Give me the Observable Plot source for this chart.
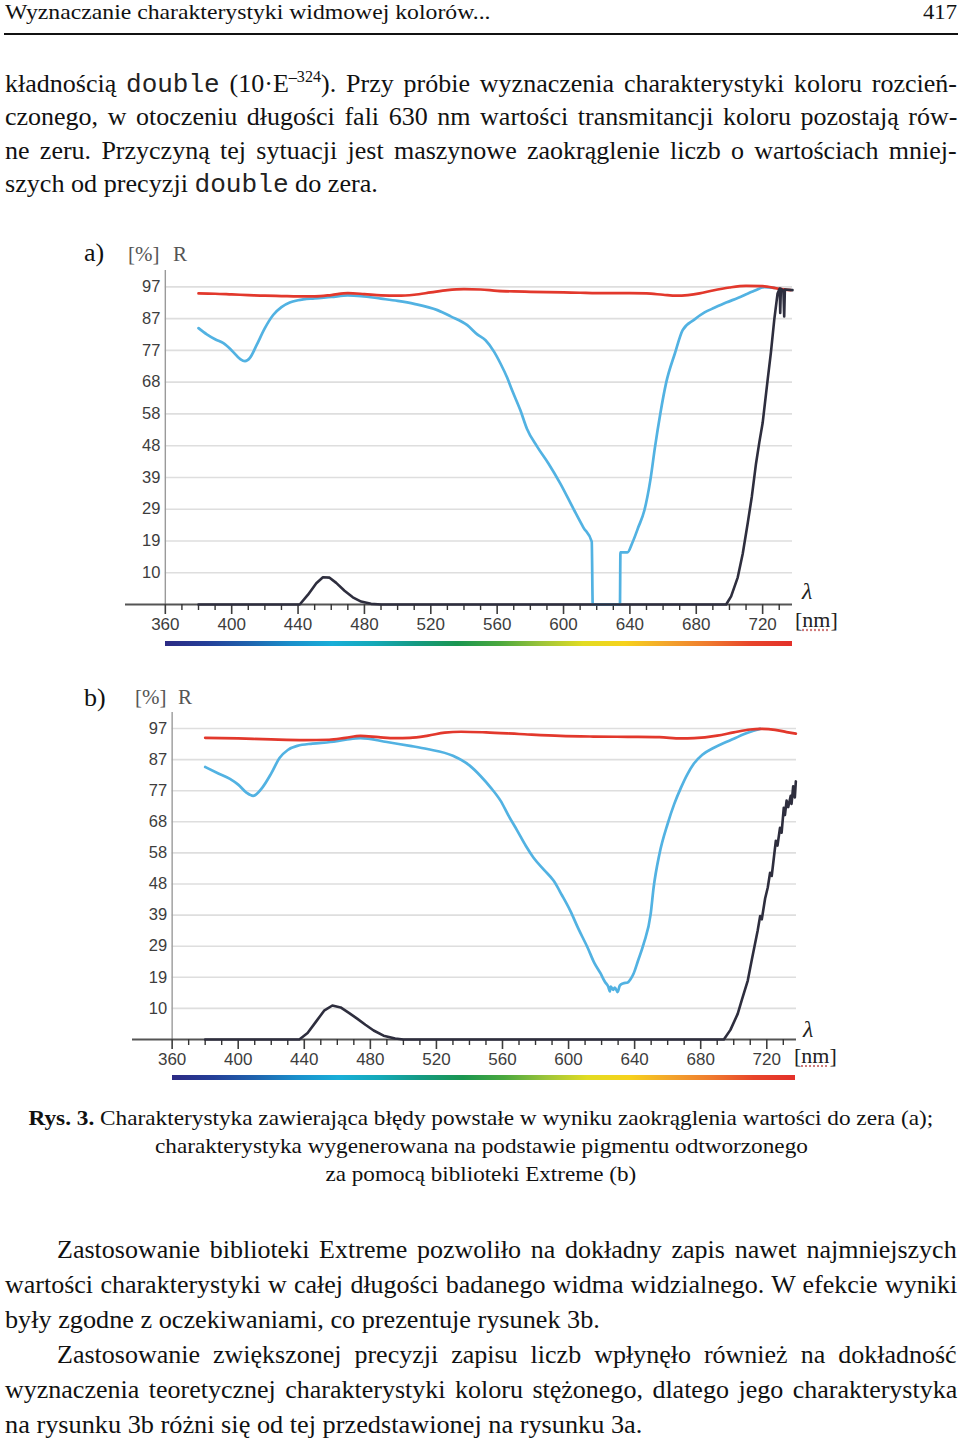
<!DOCTYPE html>
<html><head><meta charset="utf-8">
<script src="https://cdn.jsdelivr.net/npm/d3@7"></script>
<script src="https://cdn.jsdelivr.net/npm/@observablehq/plot@0.6"></script>
<style>
html,body{margin:0;padding:0;background:#fff;}
body{width:960px;height:1442px;position:relative;overflow:hidden;font-family:"Liberation Serif","Times New Roman",serif;color:#111;}
.ln{position:absolute;white-space:nowrap;line-height:1;}
.ln>span{display:inline-block;transform-origin:0 50%;}
.ctr{left:0;width:962px;text-align:center;}
.ctr>span{transform-origin:50% 50%;}
code{font-family:"Liberation Mono",monospace;font-size:1.0em;color:#222;}
sup{font-size:0.62em;vertical-align:0.62em;line-height:0;}
.lab{position:absolute;white-space:nowrap;line-height:1;font-family:"Liberation Serif",serif;}
.chart{position:absolute;left:0;}
.bar{position:absolute;height:5px;}
</style></head>
<body>
<div class="ln" data-x="5" data-w="486" data-cy="13" data-f="22">Wyznaczanie charakterystyki widmowej kolorów...</div>
<div class="ln" data-x="923" data-w="34" data-cy="13" data-f="22">417</div>
<div style="position:absolute;left:4px;top:33px;width:954px;height:1.5px;background:#111"></div>

<div class="ln" data-x="5" data-w="952" data-cy="85" data-f="26" data-j="1">kładnością <code>double</code> (10·E<sup>–324</sup>). Przy próbie wyznaczenia charakterystyki koloru rozcień-</div>
<div class="ln" data-x="5" data-w="952" data-cy="118" data-f="26" data-j="1">czonego, w otoczeniu długości fali 630 nm wartości transmitancji koloru pozostają rów-</div>
<div class="ln" data-x="5" data-w="952" data-cy="152" data-f="26" data-j="1">ne zeru. Przyczyną tej sytuacji jest maszynowe zaokrąglenie liczb o wartościach mniej-</div>
<div class="ln" data-x="5" data-w="373" data-cy="185" data-f="26">szych od precyzji <code>double</code> do zera.</div>

<div class="lab" style="left:84px;top:240px;font-size:26px;">a)</div>
<div class="lab" style="left:128px;top:244px;font-size:21px;color:#555;">[%]</div>
<div class="lab" style="left:173px;top:244px;font-size:21px;color:#555;">R</div>
<div class="lab" style="left:802px;top:579px;font-size:24px;font-style:italic;color:#222;">λ</div>
<div class="lab" style="left:795px;top:609px;font-size:22px;color:#222;">[<span style="text-decoration:underline dotted #d07a7a;">nm</span>]</div>
<div id="chartA" class="chart" style="top:240px;"></div>
<div id="barA" class="bar" style="left:165px;width:627px;top:641px;"></div>

<div class="lab" style="left:84px;top:685px;font-size:26px;">b)</div>
<div class="lab" style="left:135px;top:687px;font-size:21px;color:#555;">[%]</div>
<div class="lab" style="left:178px;top:687px;font-size:21px;color:#555;">R</div>
<div class="lab" style="left:803px;top:1017px;font-size:24px;font-style:italic;color:#222;">λ</div>
<div class="lab" style="left:794px;top:1045px;font-size:22px;color:#222;">[<span style="text-decoration:underline dotted #d07a7a;">nm</span>]</div>
<div id="chartB" class="chart" style="top:680px;"></div>
<div id="barB" class="bar" style="left:172px;width:623px;top:1075px;"></div>

<div class="ln ctr" data-w="905" data-cy="1119" data-f="22"><b>Rys. 3.</b> Charakterystyka zawierająca błędy powstałe w wyniku zaokrąglenia wartości do zera (a);</div>
<div class="ln ctr" data-w="653" data-cy="1147" data-f="22">charakterystyka wygenerowana na podstawie pigmentu odtworzonego</div>
<div class="ln ctr" data-w="311" data-cy="1175" data-f="22">za pomocą biblioteki Extreme (b)</div>

<div class="ln" data-x="57" data-w="900" data-cy="1251" data-f="26" data-j="1">Zastosowanie biblioteki Extreme pozwoliło na dokładny zapis nawet najmniejszych</div>
<div class="ln" data-x="5" data-w="952" data-cy="1286" data-f="26" data-j="1">wartości charakterystyki w całej długości badanego widma widzialnego. W efekcie wyniki</div>
<div class="ln" data-x="5" data-w="595" data-cy="1321" data-f="26">były zgodne z oczekiwaniami, co prezentuje rysunek 3b.</div>
<div class="ln" data-x="57" data-w="900" data-cy="1356" data-f="26" data-j="1">Zastosowanie zwiększonej precyzji zapisu liczb wpłynęło również na dokładność</div>
<div class="ln" data-x="5" data-w="952" data-cy="1391" data-f="26" data-j="1">wyznaczenia teoretycznej charakterystyki koloru stężonego, dlatego jego charakterystyka</div>
<div class="ln" data-x="5" data-w="637" data-cy="1426" data-f="26">na rysunku 3b różni się od tej przedstawionej na rysunku 3a.</div>

<script>
// ---------- data ----------
const xMajorTicks = [360, 400, 440, 480, 520, 560, 600, 640, 680, 720];
const xMinorTicks = [370, 380, 390, 410, 420, 430, 450, 460, 470, 490, 500, 510, 530, 540, 550, 570, 580, 590, 610, 620, 630, 650, 660, 670, 690, 700, 710, 730];
const yTickLabels = ["10", "19", "29", "39", "48", "58", "68", "77", "87", "97"];
const yTickValues = [9.7, 19.4, 29.1, 38.8, 48.5, 58.2, 67.9, 77.6, 87.3, 97];

// chart a) [wavelength nm, R %]
const redA = [[380,95],[390,94.9],[400,94.7],[410,94.5],[420,94.3],[430,94.2],[440,94.1],[450,94.1],[460,94.5],[470,95.1],[480,94.8],[490,94.4],[500,94.3],[510,94.6],[520,95.3],[530,96.0],[540,96.3],[550,96.2],[560,95.8],[570,95.6],[580,95.5],[590,95.4],[600,95.3],[610,95.2],[620,95.1],[630,95.1],[640,95.1],[650,95.0],[660,94.6],[668,94.3],[675,94.5],[682,95.0],[690,95.9],[700,96.8],[710,97.3],[720,97.2],[730,96.4],[737,96.0]];
const blueA = [[380,84.4],[385,82.5],[390,81.0],[395,79.8],[400,77.6],[405,75.0],[408,74.3],[411,75.3],[415,79.2],[420,84.4],[425,88.4],[430,90.8],[435,92.2],[440,92.9],[450,93.5],[460,93.9],[470,94.4],[478,94.2],[490,93.4],[500,92.7],[510,91.8],[524,89.9],[532,88.0],[542,85.3],[548,82.5],[553,80.7],[558,77.3],[562,73.6],[566,69.3],[569,65.4],[574,59.3],[578,53.6],[584,48.3],[591,43.0],[598,37.0],[606,29.2],[612,23.5],[617,19.2],[617.6,0],[634,0],[634.3,15.9],[638.5,15.9],[641.6,19.0],[645,23.5],[648.7,28.7],[652.3,37.9],[655.1,48.0],[658.3,58.2],[661.8,67.6],[667.2,76.8],[671.8,83.8],[678.8,87.0],[685,89.2],[690.9,90.6],[698,92.2],[705,93.6],[715,95.8],[721,96.9],[727,96.7]];
const blackA = [[380,0],[441,0],[446,3],[451,6.5],[455,8.3],[459,8.2],[463,6.6],[468,4.2],[473,2.2],[478,0.9],[484,0.2],[490,0],[698,0],[701,2.5],[705,8.3],[708,15.5],[711,24.8],[713.5,33],[716,43],[718,49.5],[720,55.4],[723,68.5],[725,77],[727,86.9],[729,95],[730.3,96.5],[730.6,89],[731,96.4],[732.5,95.8],[733,88],[733.4,96.2],[738,96]];

// chart b) [wavelength nm, R %]
const redB = [[380,94.1],[400,93.9],[420,93.6],[440,93.4],[455,93.5],[465,94.1],[474,94.7],[485,94.3],[495,94.0],[504,94.1],[515,94.8],[525,95.7],[535,96.0],[550,95.8],[570,95.3],[595,94.7],[615,94.5],[636,94.4],[655,94.3],[668,93.9],[676,94.0],[690,94.8],[700,95.8],[710,96.7],[716,96.9],[725,96.6],[732,95.9],[737.6,95.4]];
const blueB = [[380,85],[388,83],[395,81.3],[400,79.5],[405,77],[409,76],[414.5,78.5],[420,83],[425,87.8],[430,90.3],[435.8,91.6],[445,92.3],[455.8,92.8],[465,93.5],[474,94],[490,92.8],[504,91.6],[514.5,90.6],[530,88.5],[540,85.5],[546.7,82.2],[553,78.5],[558.8,74.5],[564,69.5],[569,65.1],[574,60.5],[578.8,56.7],[585,53],[591,49.5],[596,45],[601,40.2],[606,34.5],[611.5,28.7],[615.5,24],[619.4,20.6],[622,18],[624,16.5],[625,15],[625.5,16.5],[627,15.5],[628,16.2],[629.7,14.8],[631,16.8],[633,17.5],[635.8,17.8],[637.5,18.8],[639.4,20.6],[642,24.5],[645.5,29.9],[649.7,39.1],[651.5,47.4],[655,57.8],[660,67.3],[664,73.5],[668,78.5],[672,82.8],[675.8,86],[681,88.8],[688,91],[694,92.5],[700,93.8],[706,95.2],[712,96.3],[716,96.9]];
const blackB = [[380,0],[437,0],[442,2],[447,5.5],[452,9],[457,10.6],[462,10],[467,8.3],[472,6.5],[477,4.6],[482,2.8],[488,1.2],[495,0.3],[500,0],[694,0],[698,3],[702.4,8],[705,12.5],[708.5,18.4],[711,25],[714.5,34],[716,38.5],[717,37.5],[719,44],[720.6,47.4],[722,52],[723,51],[725.5,62],[726.5,60.5],[728,66],[729,64.5],[730.3,72.3],[731,70],[732,74.5],[733,72.5],[734.5,76],[735,73.5],[736,79],[737,75.5],[737.6,80.5]];

const spectrumStops = ["#2c2a84","#243f98","#1f63ae","#1a8fcb","#19aed8","#14a9b8","#149a82","#1a9650","#4aa83e","#9cc43a","#e2dc22","#f6d21c","#f3a52c","#ef7a2e","#e8452a","#e3302a"];

// ---------- drawing ----------
function chart(o) {
  return Plot.plot({
    width: 960, height: o.height,
    marginLeft: o.ml, marginRight: o.mr, marginTop: o.mt, marginBottom: o.mb,
    x: {domain: [336, 738]},
    y: {domain: [0, 102], axis: null},
    style: {background: "transparent", overflow: "visible", fontFamily: "'Liberation Sans', Arial, sans-serif", fontSize: "17px"},
    marks: [
      Plot.ruleY(yTickValues, {x1: 360, x2: 738, stroke: "#dedede", strokeWidth: 1.6}),
      Plot.ruleX([360], {y1: 0, y2: 102, stroke: "#9a9a9a", strokeWidth: 1.4}),
      Plot.ruleY([0], {x1: 336, x2: 738, stroke: "#555", strokeWidth: 1.8}),
      Plot.axisX(xMinorTicks, {tickSize: 6, tickFormat: () => "", color: "#333", strokeWidth: 1.4}),
      Plot.axisX(xMajorTicks, {tickSize: 10, tickPadding: 3, color: "#3d3d3d", strokeWidth: 1.6, tickFormat: d => String(d)}),
      Plot.text(yTickValues, {x: 360, y: d => d, text: (d, i) => yTickLabels[i], textAnchor: "end", dx: -5, fontSize: 16.5, fill: "#3d3d3d"}),
      Plot.line(o.blue, {x: d => d[0], y: d => d[1], stroke: "#52b2e2", strokeWidth: 2.7, curve: "monotone-x"}),
      Plot.line(o.red, {x: d => d[0], y: d => d[1], stroke: "#e2382c", strokeWidth: 2.7, curve: "monotone-x"}),
      Plot.line(o.black, {x: d => d[0], y: d => d[1], stroke: "#2e2e3e", strokeWidth: 2.6, curve: "linear"})
    ]
  });
}
document.getElementById("chartA").append(chart({height: 420, ml: 125, mr: 168, mt: 30, mb: 56, red: redA, blue: blueA, black: blackA}));
document.getElementById("chartB").append(chart({height: 415, ml: 132, mr: 164, mt: 32, mb: 56, red: redB, blue: blueB, black: blackB}));

const grad = "linear-gradient(to right," + spectrumStops.join(",") + ")";
document.getElementById("barA").style.background = grad;
document.getElementById("barB").style.background = grad;

// ---------- text line fitting ----------
document.querySelectorAll(".ln").forEach(el => {
  const f = +el.dataset.f, cy = +el.dataset.cy, target = +el.dataset.w;
  el.innerHTML = "<span>" + el.innerHTML + "</span>";
  el.style.fontSize = f + "px";
  el.style.top = (cy - 0.55 * f) + "px";
  if (el.dataset.x) el.style.left = el.dataset.x + "px";
  const span = el.firstElementChild;
  const w0 = span.offsetWidth;
  let s = 1;
  if (el.dataset.j) {
    const spaces = (span.textContent.match(/ /g) || []).length;
    let extra = (target / s - w0) / spaces;
    if (extra < -2.5) { extra = -2.5; s = target / (w0 + extra * spaces); }
    span.style.wordSpacing = extra + "px";
  } else {
    s = target / w0;
  }
  span.style.transform = "scaleX(" + s + ")";
});
</script>
</body></html>
